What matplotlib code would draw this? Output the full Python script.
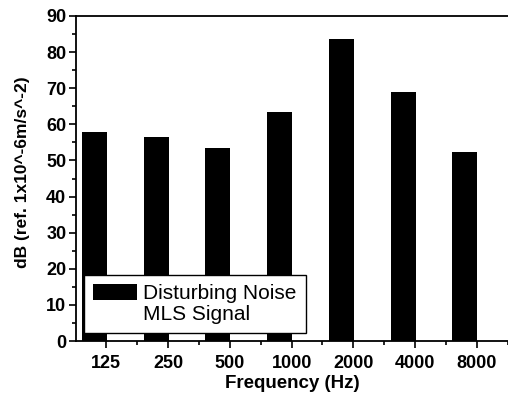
import matplotlib
matplotlib.use("Agg")
import matplotlib.pyplot as plt
import numpy as np
from matplotlib.ticker import MultipleLocator

categories = ["125", "250", "500", "1000", "2000", "4000", "8000"]
disturbing_noise = [58.0, 56.6, 53.4, 63.5, 83.5, 68.9, 52.3]
mls_signal = [45.0, 46.2, 51.8, 68.0, 73.7, 69.8, 53.2]

plt.rcParams['font.family'] = ['Liberation Sans', 'DejaVu Sans']

fig = plt.figure(figsize=(5.08, 3.94), dpi=100)
ax = fig.add_axes([76/508, 53/394, 433/508, 325/394])

x = np.arange(len(categories))
w = 0.405
ax.bar(x + w/2, mls_signal, width=w, color='white', edgecolor='none',
       label='MLS Signal', zorder=2)
ax.bar(x - w/2 + 0.01, disturbing_noise, width=w, color='black', edgecolor='none',
       label='Disturbing Noise', zorder=3)

ax.set_xlim(-0.49, 6.52)
ax.set_ylim(0, 90)
ax.set_xticks(x)
ax.set_xticklabels(categories)
ax.xaxis.set_minor_locator(MultipleLocator(0.5))
ax.yaxis.set_major_locator(MultipleLocator(10))
ax.yaxis.set_minor_locator(MultipleLocator(5))
ax.tick_params(axis='both', which='major', direction='out', length=5, width=1.2,
               labelsize=13, pad=2)
ax.tick_params(axis='both', which='minor', direction='out', length=3, width=1.2)
ax.tick_params(axis='x', which='major', pad=5)
for lab in ax.get_xticklabels() + ax.get_yticklabels():
    lab.set_fontweight('bold')
for s in ax.spines.values():
    s.set_linewidth(1.3)
ax.spines['right'].set_visible(False)

ax.set_xlabel('Frequency (Hz)', fontsize=13.5, fontweight='bold', labelpad=2)
ax.set_ylabel('dB (ref. 1x10^-6m/s^-2)', fontsize=12.5, fontweight='bold')
ax.yaxis.set_label_coords(-0.107, 0.52)

handles, labels = ax.get_legend_handles_labels()
leg = ax.legend(handles[::-1], labels[::-1], loc='lower left',
                bbox_to_anchor=(84/508, 1 - 333/394),
                bbox_transform=fig.transFigure, fontsize=15, frameon=True,
                fancybox=False, framealpha=1, edgecolor='black',
                handlelength=2.1, handleheight=0.8, handletextpad=0.3,
                labelspacing=0.05, borderpad=0.45, borderaxespad=0)
leg.get_frame().set_linewidth(1.0)
leg.set_zorder(5)

fig.savefig("out.png", dpi=100)
